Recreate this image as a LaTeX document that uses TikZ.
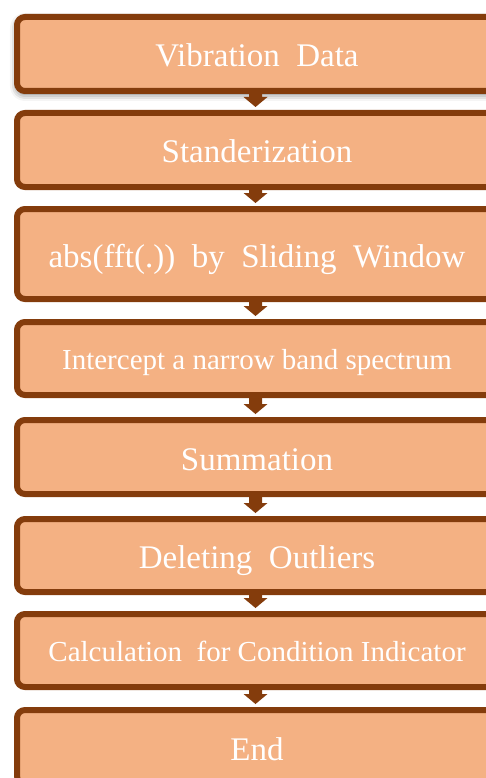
\documentclass[tikz,border=0pt]{standalone}
\usepackage{fontspec}
\setmainfont{Liberation Serif}
\usetikzlibrary{shadows.blur}
\definecolor{brn}{HTML}{843C0C}
\definecolor{peach}{HTML}{F4B183}
\tikzset{
  stepbox/.style={draw=brn, fill=peach, line width=6pt, rounded corners=8pt,
    minimum width=480pt, inner sep=0pt, text=white, align=center,
    font=\fontsize{33}{36}\selectfont, text height=26pt, text depth=0pt},
  smalltext/.style={font=\fontsize{29}{32}\selectfont, text height=22pt},
  flowarrow/.style={fill=brn},
}
\newcommand{\flowarr}[2]{%
  \fill[flowarrow] ([xshift=-8pt]#1.south) -- ([xshift=5pt]#1.south)
    -- ([xshift=5pt,yshift=13pt]#2.north) -- ([xshift=10.5pt,yshift=13pt]#2.north)
    -- ([xshift=-1.5pt,yshift=3pt]#2.north) -- ([xshift=-13.5pt,yshift=13pt]#2.north)
    -- ([xshift=-8pt,yshift=13pt]#2.north) -- cycle;}
\begin{document}
\begin{tikzpicture}[x=1pt,y=-1pt]
\path[use as bounding box] (0,0) rectangle (486,778);
\node[stepbox, minimum height=74pt,
  blur shadow={shadow xshift=0pt, shadow yshift=-3pt, shadow blur radius=7pt, shadow opacity=60}]
  (b1) at (257,54) {Vibration\ \ Data};
\node[stepbox, minimum height=74pt] (b2) at (257,150) {Standerization};
\node[stepbox, minimum height=90pt] (b3) at (257,254) {abs(fft(.))\ \ by\ \ Sliding\ \ Window};
\node[stepbox, smalltext, minimum height=73pt] (b4) at (257,358.5) {Intercept a narrow band spectrum};
\node[stepbox, minimum height=74pt] (b5) at (257,457) {Summation};
\node[stepbox, minimum height=73pt] (b6) at (257,555.5) {Deleting\ \ Outliers};
\node[stepbox, smalltext, minimum height=73pt] (b7) at (257,650.5) {Calculation\ \ for Condition Indicator};
\node[stepbox, minimum height=74pt] (b8) at (257,747) {End};
\flowarr{b1}{b2}
\flowarr{b2}{b3}
\flowarr{b3}{b4}
\flowarr{b4}{b5}
\flowarr{b5}{b6}
\flowarr{b6}{b7}
\flowarr{b7}{b8}
\end{tikzpicture}
\end{document}
